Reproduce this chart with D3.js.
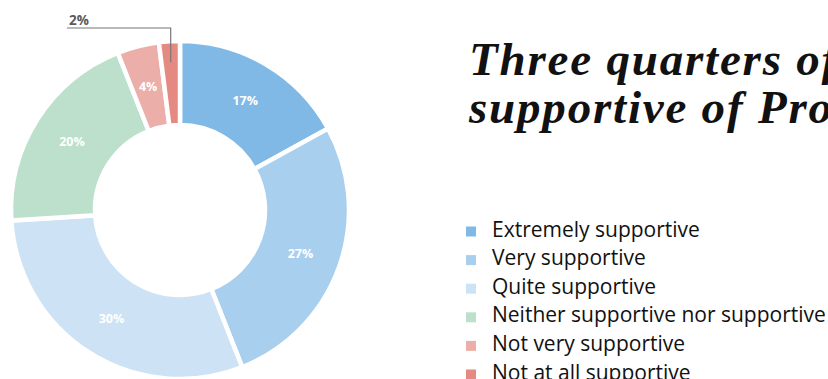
<!DOCTYPE html>
<meta charset="utf-8">
<script src="https://d3js.org/d3.v7.min.js"></script>
<style>
  body { margin: 0; background: #fff; }
</style>
<div id="donut_viz"></div>
<script>

// data
var categories = [
  "Extremely supportive",
  "Very supportive",
  "Quite supportive",
  "Neither supportive nor supportive",
  "Not very supportive",
  "Not at all supportive"
];
var values = [17, 27, 30, 20, 4, 2];
var palette = ["#80b9e6", "#a9cfee", "#cde3f5", "#bde0cc", "#ecaea9", "#e58a82"];
var titleLines = ["Three quarters of", "supportive of Pro"];

var width = 828,
    height = 379;

var svg = d3.select("#donut_viz")
  .append("svg")
    .attr("width", width)
    .attr("height", height);

var color = d3.scaleOrdinal()
  .domain(categories)
  .range(palette);

// donut
var cx = 180, cy = 210;
var g = svg.append("g")
  .attr("transform", "translate(" + cx + "," + cy + ")");

var pie = d3.pie().sort(null).value(function(d) { return d.value; });
var data = categories.map(function(c, i) { return {group: c, value: values[i]}; });
var arcs = pie(data);

var arc = d3.arc()
  .innerRadius(85)
  .outerRadius(169);

var labelArc = d3.arc()
  .innerRadius(128)
  .outerRadius(128);

g.selectAll("path")
  .data(arcs)
  .enter()
  .append("path")
    .attr("d", arc)
    .attr("fill", function(d) { return color(d.data.group); })
    .attr("stroke", "#fff")
    .attr("stroke-width", 4.5);

// labels inside the slices (the tiny one gets a leader)
g.selectAll("text.inside")
  .data(arcs.filter(function(d) { return d.data.value >= 4; }))
  .enter()
  .append("text")
    .attr("class", "inside")
    .attr("transform", function(d) { return "translate(" + labelArc.centroid(d) + ")"; })
    .attr("text-anchor", "middle")
    .attr("dy", "0.4em")
    .style("font-family", "'Open Sans', sans-serif")
    .style("font-weight", "bold")
    .style("font-size", "12.5px")
    .style("fill", "#fff")
    .text(function(d) { return d.data.value + "%"; });

var small = arcs.filter(function(d) { return d.data.value < 4; });
small.forEach(function(d) {
  var a = (d.startAngle + d.endAngle) / 2;
  var p = d3.pointRadial(a, 148);
  var topY = -182;
  g.append("path")
    .attr("d", "M" + p[0] + "," + p[1] + "V" + topY + "H" + (67 - cx))
    .attr("fill", "none")
    .attr("stroke", "#777")
    .attr("stroke-width", 1.2);
  g.append("text")
    .attr("x", 69 - cx)
    .attr("y", topY - 3.5)
    .style("font-family", "'Open Sans', sans-serif")
    .style("font-weight", "bold")
    .style("font-size", "13.5px")
    .style("fill", "#5a5a5a")
    .text(d.data.value + "%");
});

// title
svg.append("g")
  .selectAll("text")
  .data(titleLines)
  .enter()
  .append("text")
    .attr("x", 469)
    .attr("y", function(d, i) { return 75 + i * 48; })
    .style("font-family", "'Liberation Serif', serif")
    .style("font-style", "italic")
    .style("font-weight", "bold")
    .style("font-size", "47px")
    .style("letter-spacing", "1.8px")
    .style("fill", "#111")
    .text(function(d) { return d; });

// legend
var legend = svg.append("g")
  .selectAll("g")
  .data(categories)
  .enter()
  .append("g")
    .attr("transform", function(d, i) { return "translate(466," + (236.5 + i * 28.6) + ")"; });

legend.append("rect")
  .attr("x", 0)
  .attr("y", -10)
  .attr("width", 10)
  .attr("height", 10)
  .attr("fill", function(d) { return color(d); });

legend.append("text")
  .attr("x", 26)
  .attr("y", 0)
  .style("font-family", "'Open Sans', sans-serif")
  .style("font-size", "21px")
  .style("fill", "#111")
  .text(function(d) { return d; });

</script>
